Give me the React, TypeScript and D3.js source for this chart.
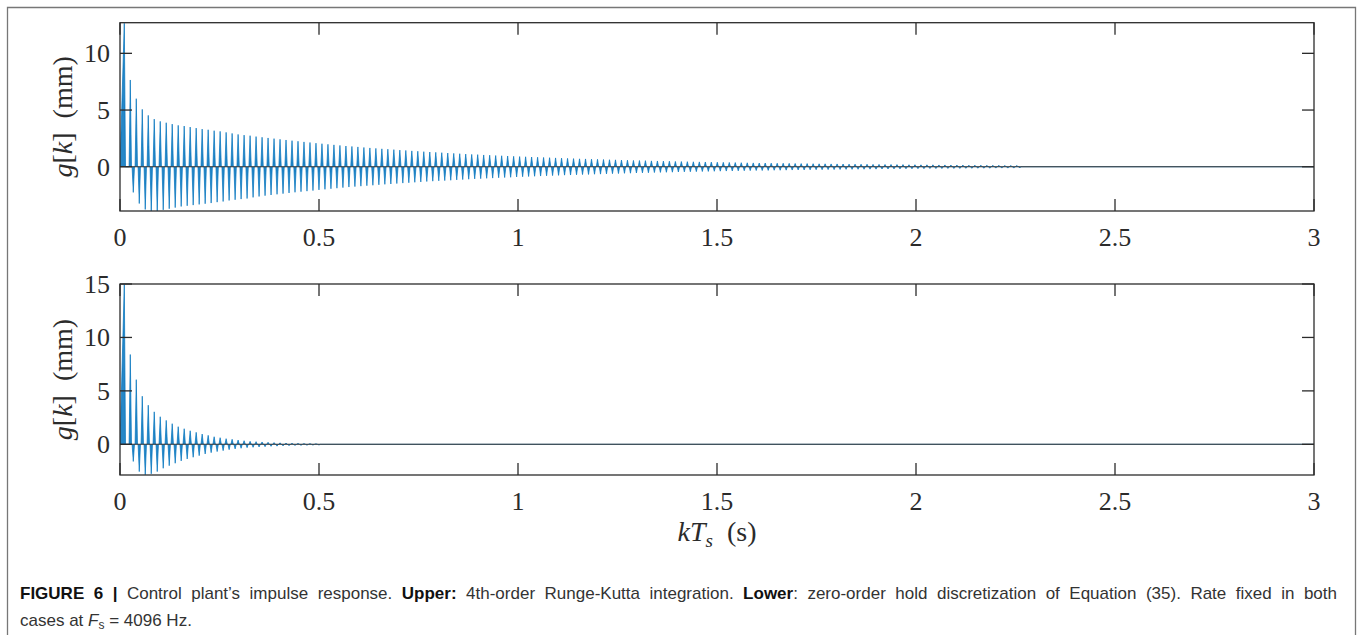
import React, { useEffect, useRef, useState } from "react";
import * as d3 from "d3";

// ---- data ----
const xTicks = [0, 0.5, 1, 1.5, 2, 2.5, 3];
const xTickLabels = ["0", "0.5", "1", "1.5", "2", "2.5", "3"];
const upperYTicks = [0, 5, 10];
const lowerYTicks = [0, 5, 10, 15];
const upperDomain = [-3.9, 12.7];
const lowerDomain = [-2.87, 15];
const timeDomain = [0, 3];
const firstPeakTime = 0.0108; // s
const cyclePeriod = 0.01505; // s (oscillation period of the response)

// positive peak of each oscillation cycle (mm), upper panel (RK4)
const upperPos = [
  12.65, 7.65, 6.0, 5.06, 4.53, 4.2, 4.0, 3.88, 3.76, 3.65,
  3.59, 3.5, 3.41, 3.32, 3.26, 3.18, 3.12, 3.03, 2.94, 2.85,
  2.79, 2.74, 2.66, 2.6, 2.54, 2.48, 2.42, 2.36, 2.3, 2.25,
  2.19, 2.14, 2.08, 2.03, 1.98, 1.93, 1.88, 1.83, 1.79, 1.75,
  1.7, 1.66, 1.62, 1.58, 1.55, 1.51, 1.47, 1.44, 1.4, 1.37,
  1.33, 1.3, 1.27, 1.24, 1.21, 1.18, 1.15, 1.12, 1.09, 1.07,
  1.04, 1.02, 0.99, 0.97, 0.95, 0.92, 0.9, 0.88, 0.86, 0.84,
  0.82, 0.8, 0.78, 0.76, 0.74, 0.72, 0.7, 0.69, 0.67, 0.66,
  0.64, 0.62, 0.61, 0.59, 0.58, 0.56, 0.55, 0.54, 0.52, 0.51,
  0.5, 0.49, 0.47, 0.46, 0.45, 0.44, 0.43, 0.42, 0.41, 0.4,
  0.39, 0.38, 0.37, 0.36, 0.35, 0.34, 0.33, 0.33, 0.32, 0.31,
  0.31, 0.3, 0.29, 0.28, 0.28, 0.27, 0.26, 0.26, 0.25, 0.25,
  0.24, 0.23, 0.23, 0.22, 0.22, 0.21, 0.21, 0.2, 0.2, 0.19,
  0.19, 0.18, 0.18, 0.17, 0.17, 0.17, 0.16, 0.16, 0.15, 0.15,
  0.15, 0.14, 0.14, 0.14, 0.13, 0.13, 0.13, 0.12, 0.12, 0.12,
];

// negative trough following each positive peak (mm), upper panel
const upperNeg = [
  0, -2.26, -3.24, -3.76, -3.95, -3.93, -3.8, -3.7, -3.6, -3.5,
  -3.44, -3.38, -3.32, -3.26, -3.2, -3.12, -3.06, -2.97, -2.91, -2.85,
  -2.8, -2.7, -2.62, -2.55, -2.49, -2.43, -2.37, -2.31, -2.25, -2.2,
  -2.15, -2.1, -2.04, -1.99, -1.94, -1.89, -1.84, -1.79, -1.75, -1.71,
  -1.67, -1.63, -1.59, -1.55, -1.52, -1.48, -1.44, -1.41, -1.37, -1.34,
  -1.3, -1.27, -1.24, -1.22, -1.19, -1.16, -1.13, -1.1, -1.07, -1.05,
  -1.02, -1.0, -0.97, -0.95, -0.93, -0.9, -0.88, -0.86, -0.84, -0.82,
  -0.8, -0.78, -0.76, -0.74, -0.73, -0.71, -0.69, -0.68, -0.66, -0.65,
  -0.63, -0.61, -0.6, -0.58, -0.57, -0.55, -0.54, -0.53, -0.51, -0.5,
  -0.49, -0.48, -0.46, -0.45, -0.44, -0.43, -0.42, -0.41, -0.4, -0.39,
  -0.38, -0.37, -0.36, -0.35, -0.34, -0.33, -0.33, -0.32, -0.31, -0.31,
  -0.3, -0.29, -0.28, -0.28, -0.27, -0.26, -0.26, -0.25, -0.25, -0.24,
  -0.23, -0.23, -0.22, -0.22, -0.21, -0.21, -0.2, -0.2, -0.19, -0.19,
  -0.18, -0.18, -0.17, -0.17, -0.16, -0.16, -0.16, -0.15, -0.15, -0.15,
  -0.14, -0.14, -0.13, -0.13, -0.13, -0.12, -0.12, -0.12, -0.12, -0.11,
];

// lower panel (zero-order hold)
const lowerPos = [
  14.95, 8.4, 6.05, 4.5, 3.66, 3.04, 2.58, 2.24, 1.93, 1.65,
  1.46, 1.27, 1.12, 0.96, 0.84, 0.71, 0.62, 0.53, 0.47, 0.4,
  0.34, 0.28, 0.25, 0.22, 0.19, 0.16, 0.14, 0.12, 0.11, 0.09,
  0.08, 0.07, 0.06,
];
const lowerNeg = [
  0, -1.6, -2.55, -2.85, -2.76, -2.55, -2.24, -2.0, -1.77, -1.55,
  -1.37, -1.21, -1.06, -0.9, -0.78, -0.68, -0.59, -0.5, -0.43, -0.37,
  -0.31, -0.28, -0.25, -0.22, -0.19, -0.17, -0.15, -0.13, -0.12, -0.1,
  -0.09, -0.08, -0.07,
];

// ---- layout ----
const W = 1357;
const H = 635;
const plotLeft = 120;
const plotRight = 1314;
const spikeHalfWidth = 0.003; // s
const blue = "#0072BD";
const axisColor = "#2b2b2b";
const serif = "'Liberation Serif', 'Times New Roman', serif";
const sans = "'Liberation Sans', Arial, Helvetica, sans-serif";
const captionWidth = 1317;

function buildSignal(pos: number[], neg: number[]): [number, number][] {
  const pts: [number, number][] = [[0, 0]];
  pos.forEach((p, i) => {
    const tp = firstPeakTime + i * cyclePeriod;
    if (i > 0) pts.push([tp - spikeHalfWidth, 0]);
    pts.push([tp, p]);
    pts.push([tp + spikeHalfWidth, 0]);
    const n = neg[i] ?? 0;
    if (n !== 0) {
      const tn = tp + cyclePeriod / 2;
      pts.push([tn - spikeHalfWidth, 0]);
      pts.push([tn, n]);
      pts.push([tn + spikeHalfWidth, 0]);
    }
  });
  pts.push([timeDomain[1], 0]);
  return pts;
}

type Panel = {
  id: string;
  pos: number[];
  neg: number[];
  domain: number[];
  yTicks: number[];
  top: number;
  bottom: number;
};

const panels: Panel[] = [
  { id: "up", pos: upperPos, neg: upperNeg, domain: upperDomain, yTicks: upperYTicks, top: 22.7, bottom: 211 },
  { id: "lo", pos: lowerPos, neg: lowerNeg, domain: lowerDomain, yTicks: lowerYTicks, top: 284, bottom: 475 },
];

const x = d3.scaleLinear().domain(timeDomain).range([plotLeft, plotRight]);

function PanelView({ p }: { p: Panel }) {
  const y = d3.scaleLinear().domain(p.domain).range([p.bottom, p.top]);
  const line = d3
    .line<[number, number]>()
    .x((d) => x(d[0]))
    .y((d) => y(d[1]));
  const d = line(buildSignal(p.pos, p.neg)) || "";
  const tickLen = 12;
  const midY = (p.top + p.bottom) / 2;
  return (
    <g>
      <defs>
        <clipPath id={"clip-" + p.id}>
          <rect x={plotLeft} y={p.top} width={plotRight - plotLeft} height={p.bottom - p.top} />
        </clipPath>
      </defs>
      <g clipPath={`url(#clip-${p.id})`}>
        <path d={d} fill={blue} fillOpacity={0.85} stroke={blue} strokeWidth={0.7} strokeLinejoin="miter" />
        <line x1={plotLeft} x2={plotRight} y1={y(0)} y2={y(0)} stroke="#333" strokeWidth={1.1} />
      </g>
      {xTicks.map((t) => (
        <g key={"xt" + t}>
          <line x1={x(t)} x2={x(t)} y1={p.bottom} y2={p.bottom - tickLen} stroke={axisColor} strokeWidth={1.3} />
          <line x1={x(t)} x2={x(t)} y1={p.top} y2={p.top + tickLen} stroke={axisColor} strokeWidth={1.3} />
        </g>
      ))}
      {p.yTicks.map((v) => (
        <g key={"yt" + v}>
          <line x1={plotLeft} x2={plotLeft + tickLen} y1={y(v)} y2={y(v)} stroke={axisColor} strokeWidth={1.3} />
          <line x1={plotRight} x2={plotRight - tickLen} y1={y(v)} y2={y(v)} stroke={axisColor} strokeWidth={1.3} />
          <text x={plotLeft - 10} y={y(v) + 9} textAnchor="end" fontFamily={serif} fontSize={26} fill={axisColor}>
            {String(v)}
          </text>
        </g>
      ))}
      {xTicks.map((t, i) => (
        <text key={"xl" + t} x={x(t)} y={p.bottom + 35} textAnchor="middle" fontFamily={serif} fontSize={26} fill={axisColor}>
          {xTickLabels[i]}
        </text>
      ))}
      <rect x={plotLeft} y={p.top} width={plotRight - plotLeft} height={p.bottom - p.top} fill="none" stroke={axisColor} strokeWidth={1.3} />
      <text transform={`translate(72,${midY}) rotate(-90)`} textAnchor="middle" fontFamily={serif} fontSize={28} fill={axisColor}>
        <tspan fontStyle="italic">g</tspan>
        <tspan>[</tspan>
        <tspan fontStyle="italic">k</tspan>
        <tspan>{"]\u00A0\u00A0(mm)"}</tspan>
      </text>
    </g>
  );
}

export default function App() {
  const capRef = useRef<SVGTextElement | null>(null);
  const [wordSpacing, setWordSpacing] = useState(0);
  useEffect(() => {
    const el = capRef.current;
    if (!el) return;
    const natural = el.getComputedTextLength();
    const spaces = (el.textContent || "").split(" ").length - 1;
    if (spaces > 0 && natural < captionWidth) setWordSpacing((captionWidth - natural) / spaces);
  }, []);
  return (
    <svg
      width={W}
      height={H}
      viewBox={`0 0 ${W} ${H}`}
      style={{ position: "absolute", left: 0, top: 0, background: "#fff", display: "block" }}
    >
      <rect x={0} y={0} width={W} height={H} fill="#fff" />
      <path d={`M7.5,${H + 5} L7.5,7.5 L1355.5,7.5 L1355.5,${H + 5}`} fill="none" stroke="#777" strokeWidth={1.3} />
      {panels.map((p) => (
        <PanelView key={p.id} p={p} />
      ))}
      <text x={(plotLeft + plotRight) / 2} y={541} textAnchor="middle" fontFamily={serif} fontSize={28} fill={axisColor}>
        <tspan fontStyle="italic">kT</tspan>
        <tspan fontStyle="italic" fontSize={19} dy={6}>s</tspan>
        <tspan dy={-6}>{"\u00A0\u00A0(s)"}</tspan>
      </text>
      <text ref={capRef} x={20} y={599} fontFamily={sans} fontSize={17} fill="#333" style={{ wordSpacing: wordSpacing + "px" }}>
        <tspan fontWeight="bold" fill="#111">FIGURE 6 |</tspan>
        <tspan>{" Control plant\u2019s impulse response. "}</tspan>
        <tspan fontWeight="bold" fill="#111">Upper:</tspan>
        <tspan>{" 4th-order Runge-Kutta integration. "}</tspan>
        <tspan fontWeight="bold" fill="#111">Lower</tspan>
        <tspan>{": zero-order hold discretization of Equation (35). Rate fixed in both"}</tspan>
      </text>
      <text x={20} y={626} fontFamily={sans} fontSize={17} fill="#333">
        <tspan>{"cases at "}</tspan>
        <tspan fontStyle="italic">F</tspan>
        <tspan fontSize={12} dy={3}>s</tspan>
        <tspan dy={-3}>{" = 4096 Hz."}</tspan>
      </text>
    </svg>
  );
}
